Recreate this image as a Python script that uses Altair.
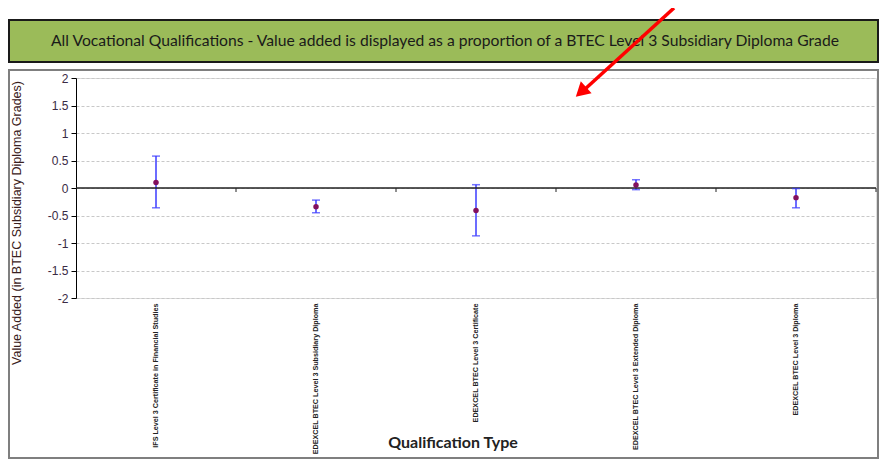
import altair as alt
import pandas as pd

categories = [
    "IFS Level 3 Certificate in Financial Studies",
    "EDEXCEL BTEC Level 3 Subsidiary Diploma",
    "EDEXCEL BTEC Level 3 Certificate",
    "EDEXCEL BTEC Level 3 Extended Diploma",
    "EDEXCEL BTEC Level 3 Diploma",
]
value_added = [0.10, -0.34, -0.41, 0.055, -0.175]
upper = [0.58, -0.22, 0.06, 0.15, -0.01]
lower = [-0.36, -0.45, -0.87, -0.03, -0.36]

y_ticks = [-2, -1.5, -1, -0.5, 0, 0.5, 1, 1.5, 2]

chart_title = "All Vocational Qualifications - Value added is displayed as a proportion of a BTEC Level 3 Subsidiary Diploma Grade"
x_title = "Qualification Type"
y_title = "Value Added (in BTEC  Subsidiary Diploma Grades)"

df = pd.DataFrame({"cat": categories, "va": value_added, "hi": upper, "lo": lower})
one = pd.DataFrame({"a": [0]})

W, H = 800, 220

x_enc = alt.X(
    "cat:N",
    sort=categories,
    scale=alt.Scale(paddingInner=0, paddingOuter=0),
    axis=alt.Axis(
        title=None, labelAngle=270, labelAlign="right", labelBaseline="middle",
        labelPadding=5, ticks=False, domain=False, labelFontSize=7.2,
        labelFontWeight="bold", labelFont="Liberation Sans Narrow, Liberation Sans",
        labelColor="#222", labelLimit=300,
    ),
)
y_scale = alt.Scale(domain=[-2, 2], nice=False)
y_axis = alt.Axis(
    title=None, values=y_ticks, tickCount=9, grid=True, gridDash=[3, 2], gridColor="#c8c8c8",
    domainColor="#000", tickColor="#000", tickSize=5, labelFontSize=12,
    labelFont="Liberation Sans", labelColor="#3a2a44", labelPadding=3,
    labelOverlap=False, labelFlush=False,
    labelExpr="datum.value < 0 ? '-' + format(-datum.value, '~g') : format(datum.value, '~g')",
)

base = alt.Chart(df)

outer = alt.Chart(one).mark_rect(fillOpacity=0, stroke="#7f7f7f", strokeWidth=2).encode(
    x=alt.value(-67), x2=alt.value(802), y=alt.value(-8), y2=alt.value(380)
)
green = alt.Chart(one).mark_rect(fill="#9bbb59", stroke="#1a1a1a", strokeWidth=2).encode(
    x=alt.value(-67), x2=alt.value(802), y=alt.value(-58), y2=alt.value(-16)
)
title_txt = alt.Chart(one).mark_text(
    text=chart_title, font="Lato", fontSize=15.7, fontWeight="normal", color="#1a1a1a",
    align="center", baseline="middle"
).encode(x=alt.value(369), y=alt.value(-37))

errbars = base.mark_rule(color="#3b3bff", strokeWidth=1.5).encode(
    x=x_enc, y=alt.Y("lo:Q", scale=y_scale, axis=y_axis), y2="hi:Q"
)
cap_hi = base.mark_tick(color="#3b3bff", size=8, thickness=1.5).encode(
    x=x_enc, y=alt.Y("hi:Q", scale=y_scale, axis=y_axis))
cap_lo = base.mark_tick(color="#3b3bff", size=8, thickness=1.5).encode(
    x=x_enc, y=alt.Y("lo:Q", scale=y_scale, axis=y_axis))
points = base.mark_point(filled=True, color="#82105e", size=30, opacity=1).encode(
    x=x_enc, y=alt.Y("va:Q", scale=y_scale, axis=y_axis)
)

zero = alt.Chart(one).mark_rule(color="#222", strokeWidth=1.5).encode(
    x=alt.value(0), x2=alt.value(W), y=alt.datum(0, scale=y_scale, axis=y_axis)
)
bticks = base.mark_rule(color="#222", strokeWidth=1, xOffset=80).encode(
    x=x_enc, y=alt.value(110), y2=alt.value(114)
)

x_title_txt = alt.Chart(one).mark_text(
    text=x_title, font="Lato", fontSize=16, fontWeight="bold", color="#222",
    align="center", baseline="middle"
).encode(x=alt.value(377), y=alt.value(365))
y_title_txt = alt.Chart(one).mark_text(
    text=y_title, font="Liberation Sans", fontSize=12.5, color="#3a2020",
    align="center", baseline="middle", angle=270
).encode(x=alt.value(-59), y=alt.value(145))

arrow_line = alt.Chart(one).mark_rule(color="#ff0000", strokeWidth=3.5).encode(
    x=alt.value(598), x2=alt.value(508), y=alt.value(-70), y2=alt.value(12)
)
arrow_head = alt.Chart(one).mark_point(
    shape="triangle-up", filled=True, color="#ff0000", size=260, opacity=1, angle=228
).encode(x=alt.value(505), y=alt.value(14))

chart = alt.layer(
    outer, green, title_txt, errbars, zero, bticks, cap_hi, cap_lo, points,
    x_title_txt, y_title_txt, arrow_line, arrow_head
).properties(
    width=W, height=H,
    padding={"left": 68, "top": 70, "right": 3, "bottom": 162},
    autosize=alt.AutoSizeParams(type="none"),
).configure_view(stroke="#999", strokeWidth=1).configure(background="white")

chart.save("out.html", embed_options={"renderer": "svg", "actions": False})
